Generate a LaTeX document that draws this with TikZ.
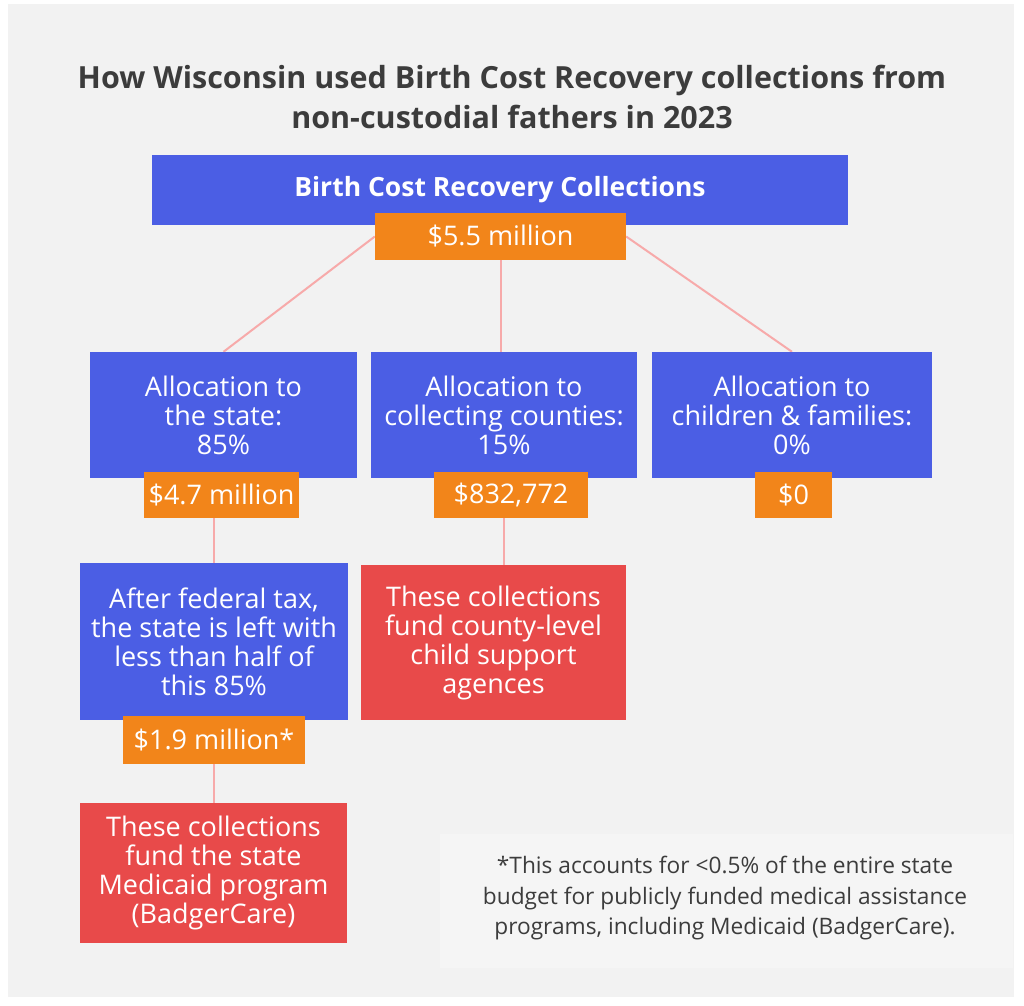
\documentclass[tikz,border=0pt]{standalone}
\usepackage{fontspec}
\setmainfont{Open Sans}
\definecolor{bgc}{HTML}{F2F2F2}
\definecolor{fnbg}{HTML}{F5F5F5}
\definecolor{cblue}{HTML}{4B5EE4}
\definecolor{corange}{HTML}{F2851A}
\definecolor{cred}{HTML}{E84A4A}
\definecolor{cline}{HTML}{F7AAAA}
\definecolor{ctext}{HTML}{3C3C3C}
\pgfdeclarelayer{bottomlayer}
\pgfdeclarelayer{linelayer}
\pgfsetlayers{bottomlayer,linelayer,main}
\begin{document}
\begin{tikzpicture}[x=1pt,y=-1pt,
  basebox/.style={rectangle, inner sep=0pt, align=center, text=white, font=\fontsize{27}{29}\selectfont},
  bluebox/.style={basebox, fill=cblue},
  redbox/.style={basebox, fill=cred},
  valbox/.style={basebox, fill=corange},
  link/.style={draw=cline, line width=2pt}]
\useasboundingbox (0,0) rectangle (1024,1005);
\begin{pgfonlayer}{bottomlayer}
\fill[white] (0,0) rectangle (1024,1005);
\fill[bgc] (8,4) rectangle (1014,997);
\fill[fnbg] (440,834) rectangle (1013,968);
\end{pgfonlayer}

% title
\node[font=\bfseries\fontsize{30.5}{40}\selectfont, text=ctext, align=center] (title) at (512,97)
  {How Wisconsin used Birth Cost Recovery collections from\\non-custodial fathers in 2023};

% nodes
\node[bluebox, minimum width=696, minimum height=70, font=\bfseries\fontsize{26.5}{29}\selectfont] (top) at (500,190) {\raisebox{2pt}{Birth Cost Recovery Collections}};
\node[bluebox, minimum width=267, minimum height=126] (a1) at (223.5,415) {Allocation to\\the state:\\85\%};
\node[bluebox, minimum width=266, minimum height=126] (a2) at (504,415) {Allocation to\\collecting counties:\\15\%};
\node[bluebox, minimum width=280, minimum height=126] (a3) at (792,415) {Allocation to\\children \& families:\\0\%};
\node[bluebox, minimum width=268, minimum height=157] (fed) at (214,641.5) {After federal tax,\\the state is left with\\less than half of\\this 85\%};
\node[redbox, minimum width=265, minimum height=155] (county) at (493.5,642.5) {These collections\\fund county-level\\child support\\agences};
\node[redbox, minimum width=267, minimum height=140] (medic) at (213.5,873) {These collections\\fund the state\\Medicaid program\\(BadgerCare)};

\node[valbox, minimum width=251, minimum height=47] (v55) at (500.5,236.5) {\$5.5 million};
\node[valbox, minimum width=155, minimum height=46] (v47) at (221.5,495) {\$4.7 million};
\node[valbox, minimum width=154, minimum height=46] (v832) at (511,495) {\$832,772};
\node[valbox, minimum width=77, minimum height=46] (v0) at (793.5,495) {\$0};
\node[valbox, minimum width=182, minimum height=48] (v19) at (214,740) {\$1.9 million*};

% footnote
\node[font=\fontsize{22.7}{30.5}\selectfont, text=ctext, align=center] (note) at (725,898.5)
  {*This accounts for <0.5\% of the entire state\\budget for publicly funded medical assistance\\programs, including Medicaid (BadgerCare).};

% connectors
\begin{pgfonlayer}{linelayer}
\draw[link] (v55.west) -- (a1.north);
\draw[link] (v55.south) -- (v55.south |- a2.north);
\draw[link] (v55.east) -- (a3.north);
\draw[link] (fed.north) -- (fed.north |- v47.south);
\draw[link] (v832.south -| a2.center) -- (county.north -| a2.center);
\draw[link] (medic.north) -- (medic.north |- v19.south);
\end{pgfonlayer}
\end{tikzpicture}
\end{document}
